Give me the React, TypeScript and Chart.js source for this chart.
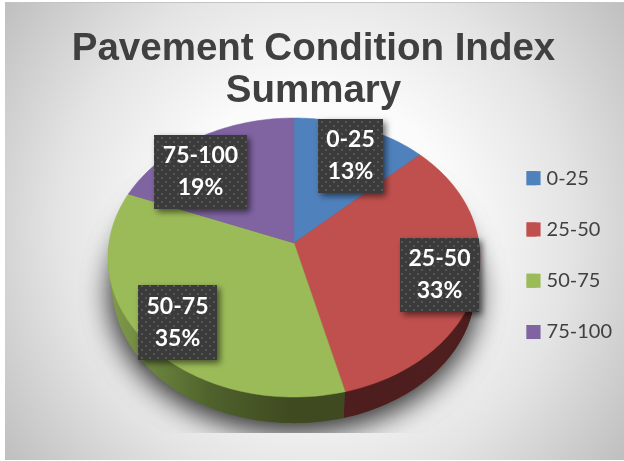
import React, { useEffect, useRef } from "react";
import { Chart, registerables } from "chart.js";

Chart.register(...registerables);

const categories = ["0-25", "25-50", "50-75", "75-100"];
const shares = [13, 33, 35, 19];
const faceColors = ["#4f81bd", "#c0504d", "#9bbb59", "#8064a2"];
const titleLines = ["Pavement Condition Index", "Summary"];

const cx = 294, cy = 243, rx = 185, ryK = 138, persp = 0.104, depth = 30;
const labelBoxes = [
  [318, 119, 65, 74],
  [400, 238, 79, 74],
  [138, 285, 79, 75],
  [154, 135, 93, 74],
];

function wedgePath(ctx: CanvasRenderingContext2D, a0: number, a1: number, dy: number, s: number) {
  const proj = (a: number) => {
    const u = Math.cos(a), v = Math.sin(a), d = 1 - persp * v;
    return [cx + (s * rx * u) / d, cy + dy + (s * ryK * v) / d];
  };
  ctx.beginPath();
  ctx.moveTo(cx, cy + dy);
  const n = Math.max(8, Math.ceil((a1 - a0) * 40));
  for (let i = 0; i <= n; i++) {
    const [x, y] = proj(a0 + ((a1 - a0) * i) / n);
    ctx.lineTo(x, y);
  }
  ctx.closePath();
}

const scenePlugin = {
  id: "scene",
  beforeDraw(chart: any) {
    const ctx = chart.ctx as CanvasRenderingContext2D;
    ctx.save();
    ctx.fillStyle = "#ffffff";
    ctx.fillRect(0, 0, 624, 461);
    const g = ctx.createRadialGradient(315, 230, 0, 315, 230, 395);
    g.addColorStop(0, "#ffffff");
    g.addColorStop(0.35, "#fbfbfb");
    g.addColorStop(0.65, "#e4e4e4");
    g.addColorStop(1, "#bcbcbc");
    ctx.fillStyle = g;
    ctx.fillRect(5, 2, 619, 458);
    ctx.fillStyle = "#c4c4c4";
    ctx.fillRect(5, 2, 619, 1);
    ctx.restore();
  },
  beforeDatasetDraw(chart: any, args: any) {
    const ctx = chart.ctx as CanvasRenderingContext2D;
    const arcs = chart.getDatasetMeta(args.index).data as any[];
    ctx.save();
    // soft ground shadow, cut off at the plot edge
    ctx.save();
    ctx.beginPath();
    ctx.rect(5, 3, 619, 430);
    ctx.clip();
    for (let pass = 0; pass < 2; pass++) {
      ctx.shadowColor = "rgba(0,0,0,0.6)";
      ctx.shadowBlur = 30;
      ctx.shadowOffsetY = 8;
      ctx.fillStyle = "#777";
      wedgePath(ctx, -Math.PI / 2, Math.PI * 1.5, depth - 2, 0.97);
      ctx.fill();
    }
    ctx.restore();
    // extruded side
    const green = ctx.createLinearGradient(112, 0, 290, 0);
    green.addColorStop(0, "#7f9a4a");
    green.addColorStop(0.55, "#4f622c");
    green.addColorStop(1, "#3f4a20");
    const sides: any[] = ["#2f4a6a", "#4f1f1f", green, "#473758"];
    const steps = depth;
    for (let d = steps; d >= 1; d--) {
      const s = 1 - (0.025 * d) / steps;
      arcs.forEach((arc, i) => {
        ctx.fillStyle = sides[i];
        wedgePath(ctx, arc.startAngle, arc.endAngle, d, s);
        ctx.fill();
      });
    }
    // top face
    arcs.forEach((arc, i) => {
      ctx.fillStyle = arc.options.backgroundColor;
      ctx.strokeStyle = arc.options.backgroundColor;
      ctx.lineWidth = 0.5;
      wedgePath(ctx, arc.startAngle, arc.endAngle, 0, 1);
      ctx.fill();
      ctx.stroke();
    });
    ctx.restore();
    return false;
  },
  afterDatasetsDraw(chart: any) {
    const ctx = chart.ctx as CanvasRenderingContext2D;
    // widen the legend swatches to their square size without moving the text
    chart.legend.legendHitBoxes.forEach((box: any, i: number) => {
      ctx.fillStyle = faceColors[i];
      ctx.fillRect(box.left, box.top + box.height / 2 - 7, 14, 14);
    });
    const tile = document.createElement("canvas");
    tile.width = 8;
    tile.height = 8;
    const t = tile.getContext("2d")!;
    t.fillStyle = "#3b3b3b";
    t.fillRect(0, 0, 8, 8);
    t.fillStyle = "#565656";
    t.fillRect(1, 1, 2, 2);
    t.fillRect(5, 5, 2, 2);
    const pat = ctx.createPattern(tile, "repeat")!;
    ctx.save();
    categories.forEach((c, i) => {
      const [x, y, w, h] = labelBoxes[i];
      ctx.save();
      ctx.shadowColor = "rgba(0,0,0,0.55)";
      ctx.shadowBlur = 6;
      ctx.shadowOffsetX = 3;
      ctx.shadowOffsetY = 3;
      ctx.fillStyle = pat;
      ctx.fillRect(x, y, w, h);
      ctx.restore();
      ctx.fillStyle = "#ffffff";
      ctx.font = "bold 23px Lato";
      ctx.textAlign = "center";
      ctx.textBaseline = "middle";
      ctx.fillText(c, x + w / 2, y + h / 2 - 16);
      ctx.fillText(shares[i] + "%", x + w / 2, y + h / 2 + 16);
    });
    ctx.restore();
  },
};

export default function App() {
  const ref = useRef<HTMLCanvasElement>(null);
  useEffect(() => {
    document.body.style.margin = "0";
    const chart = new Chart(ref.current!, {
      type: "pie",
      data: {
        labels: categories,
        datasets: [{ data: shares, backgroundColor: faceColors, borderWidth: 0 }],
      },
      plugins: [scenePlugin],
      options: {
        responsive: false,
        animation: false,
        layout: { padding: { top: 8, right: 2, bottom: 63, left: 5 } },
        plugins: {
          tooltip: { enabled: false },
          title: {
            display: true,
            text: titleLines,
            color: "#404040",
            font: { family: "Liberation Sans", size: 38.5, weight: "bold", lineHeight: 1.08 },
            padding: { top: 21, bottom: 0 },
          },
          legend: {
            position: "right",
            fullSize: false,
            labels: {
              boxWidth: 10,
              boxHeight: 14,
              padding: 31.3,
              color: "#404040",
              font: { family: "Lato", size: 20 },
            },
          },
        },
      },
    } as any);
    return () => chart.destroy();
  }, []);
  return (
    <div style={{ width: 624, height: 461 }}>
      <canvas ref={ref} width={624} height={461} style={{ display: "block" }} />
    </div>
  );
}
